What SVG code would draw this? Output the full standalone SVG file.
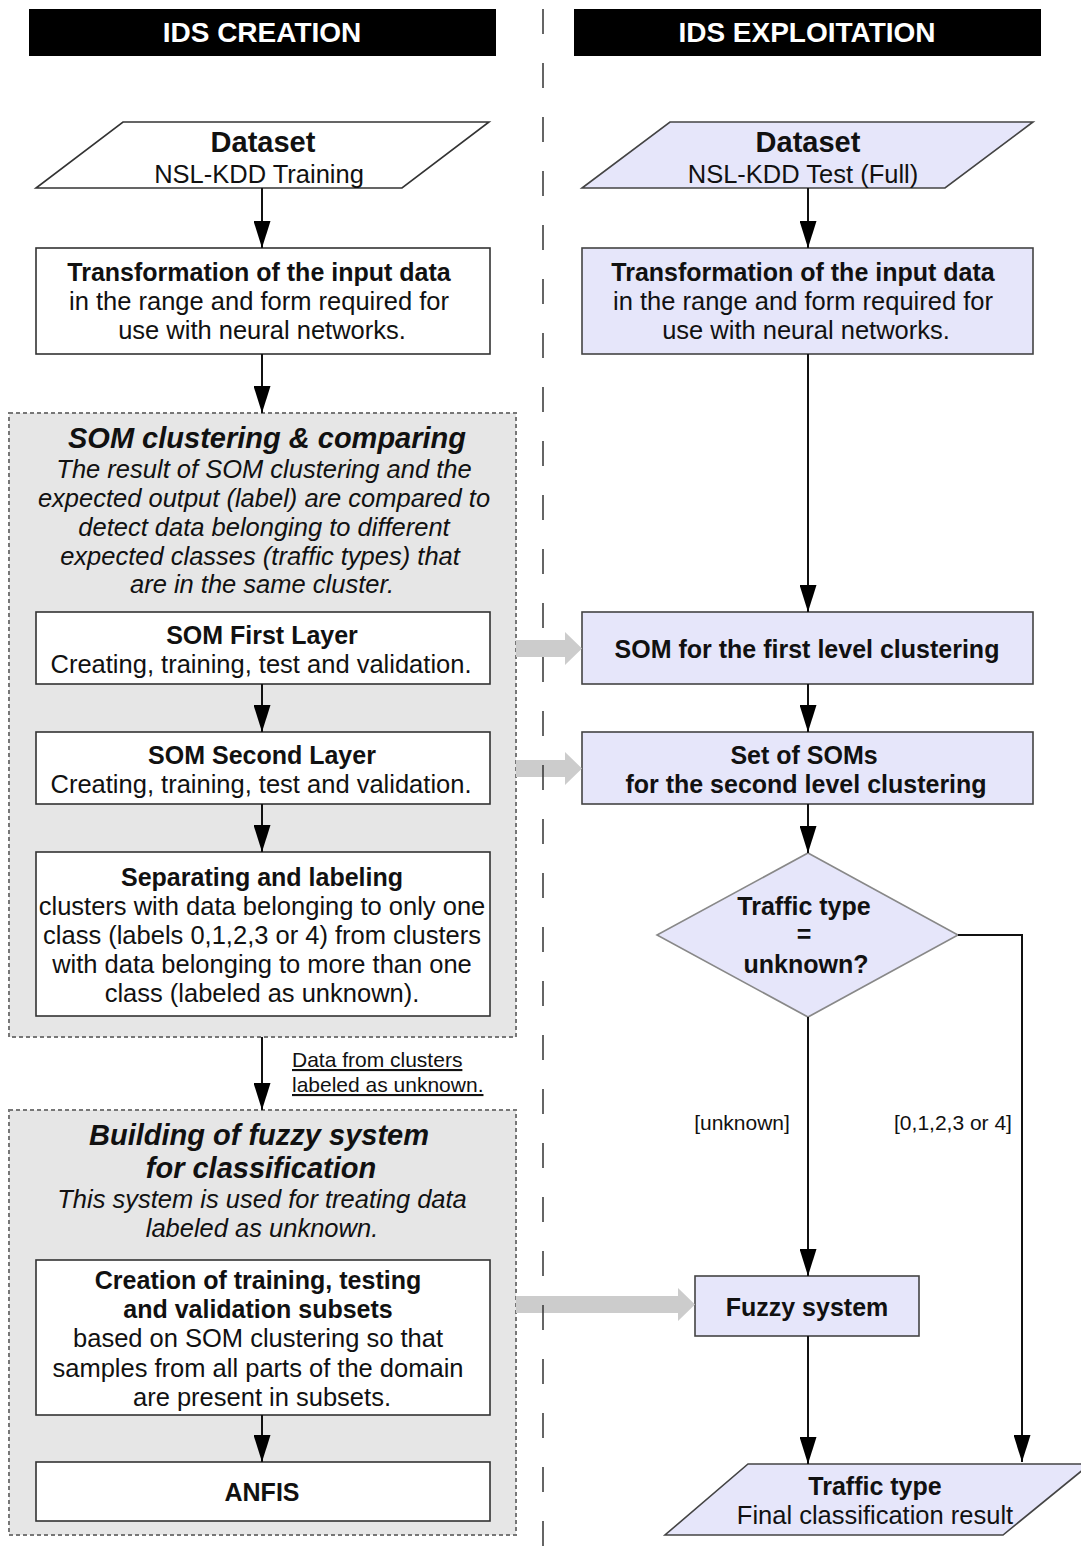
<svg xmlns="http://www.w3.org/2000/svg" width="1081" height="1563" viewBox="0 0 1081 1563">
<defs>
<marker id="ah" markerUnits="userSpaceOnUse" markerWidth="27" markerHeight="17" refX="27" refY="8.5" orient="auto" viewBox="0 0 27 17">
<path d="M0,0 L27,8.5 L0,17 Z" fill="#000"/>
</marker>
<style>
text{font-family:"Liberation Sans",Arial,sans-serif;fill:#111;text-anchor:middle}
.hdr{font-size:28px;font-weight:bold;fill:#fff}
.b{font-size:25px;font-weight:bold}
.r{font-size:25.5px}
.big{font-size:29px;font-weight:bold}
.bi{font-size:29px;font-weight:bold;font-style:italic}
.i{font-size:25.5px;font-style:italic}
.lbl{font-size:21px}
.box{fill:#fff;stroke:#333;stroke-width:1.6}
.lav{fill:#e6e6fa;stroke:#444;stroke-width:1.6}
.grp{fill:#e6e6e6;stroke:#777;stroke-width:2;stroke-dasharray:4,3}
.con{fill:none;stroke:#111;stroke-width:2}
.gar{fill:#cccccc}
</style>
</defs>
<rect width="1081" height="1563" fill="#fff"/>
<g id="hdr-creation"><rect x="29" y="9" width="467" height="47" fill="#000"/><text class="hdr" x="262" y="42">IDS CREATION</text></g>
<g id="hdr-exploitation"><rect x="574" y="9" width="467" height="47" fill="#000"/><text class="hdr" x="807" y="42">IDS EXPLOITATION</text></g>
<g id="grp-som"><rect class="grp" x="9" y="413" width="507" height="624"/>
<text class="bi" x="267" y="448">SOM clustering &amp; comparing</text>
<text class="i" x="264" y="478">The result of SOM clustering and the</text>
<text class="i" x="264" y="507">expected output (label) are compared to</text>
<text class="i" x="264" y="536">detect data belonging to different</text>
<text class="i" x="260" y="565">expected classes (traffic types) that</text>
<text class="i" x="262" y="593">are in the same cluster.</text></g>
<g id="grp-fuzzy"><rect class="grp" x="9" y="1110" width="507" height="425"/>
<text class="bi" x="259" y="1145">Building of fuzzy system</text>
<text class="bi" x="261" y="1178">for classification</text>
<text class="i" x="262" y="1208">This system is used for treating data</text>
<text class="i" x="262" y="1237">labeled as unknown.</text></g>
<g id="ds-train"><polygon class="box" points="123,122 489,122 402,188 36,188"/><text class="big" x="263" y="152">Dataset</text><text class="r" x="259" y="183">NSL-KDD Training</text></g>
<g id="tr-left"><rect class="box" x="36" y="248" width="454" height="106"/><text class="b" x="259" y="281">Transformation of the input data</text><text class="r" x="259" y="310">in the range and form required for</text><text class="r" x="262" y="339">use with neural networks.</text></g>
<g id="som1"><rect class="box" x="36" y="612" width="454" height="72"/><text class="b" x="262" y="644">SOM First Layer</text><text class="r" x="261" y="673">Creating, training, test and validation.</text></g>
<g id="som2"><rect class="box" x="36" y="732" width="454" height="72"/><text class="b" x="262" y="764">SOM Second Layer</text><text class="r" x="261" y="793">Creating, training, test and validation.</text></g>
<g id="sep"><rect class="box" x="36" y="852" width="454" height="164"/><text class="b" x="262" y="886">Separating and labeling</text><text class="r" x="262" y="915">clusters with data belonging to only one</text><text class="r" x="262" y="944">class (labels 0,1,2,3 or 4) from clusters</text><text class="r" x="262" y="973">with data belonging to more than one</text><text class="r" x="262" y="1002">class (labeled as unknown).</text></g>
<g id="subsets"><rect class="box" x="36" y="1260" width="454" height="155"/><text class="b" x="258" y="1289">Creation of training, testing</text><text class="b" x="258" y="1318">and validation subsets</text><text class="r" x="258" y="1347">based on SOM clustering so that</text><text class="r" x="258" y="1377">samples from all parts of the domain</text><text class="r" x="262" y="1406">are present in subsets.</text></g>
<g id="anfis"><rect class="box" x="36" y="1462" width="454" height="59"/><text class="b" x="262" y="1501">ANFIS</text></g>
<g id="ds-test"><polygon class="lav" points="670,122 1033,122 945,188 582,188"/><text class="big" x="808" y="152">Dataset</text><text class="r" x="803" y="183">NSL-KDD Test (Full)</text></g>
<g id="tr-right"><rect class="lav" x="582" y="248" width="451" height="106"/><text class="b" x="803" y="281">Transformation of the input data</text><text class="r" x="803" y="310">in the range and form required for</text><text class="r" x="806" y="339">use with neural networks.</text></g>
<g id="som-first"><rect class="lav" x="582" y="612" width="451" height="72"/><text class="b" x="807" y="658">SOM for the first level clustering</text></g>
<g id="som-set"><rect class="lav" x="582" y="732" width="451" height="72"/><text class="b" x="804" y="764">Set of SOMs</text><text class="b" x="806" y="793">for the second level clustering</text></g>
<g id="decision"><polygon points="808,853 958,935 808,1017 657,935" fill="#e6e6fa" stroke="#888" stroke-width="1.6"/><text class="b" x="804" y="915">Traffic type</text><text class="b" x="804" y="943">=</text><text class="b" x="806" y="973">unknown?</text></g>
<g id="fuzzy"><rect class="lav" x="695" y="1276" width="224" height="60"/><text class="b" x="807" y="1316">Fuzzy system</text></g>
<g id="result"><polygon class="lav" points="748,1464 1090,1464 1003,1535 665,1535"/><text class="b" x="875" y="1495">Traffic type</text><text class="r" x="875" y="1524">Final classification result</text></g>
<g id="connectors">
<line class="con" x1="262" y1="188" x2="262" y2="248" marker-end="url(#ah)"/>
<line class="con" x1="262" y1="354" x2="262" y2="413" marker-end="url(#ah)"/>
<line class="con" x1="262" y1="684" x2="262" y2="732" marker-end="url(#ah)"/>
<line class="con" x1="262" y1="804" x2="262" y2="852" marker-end="url(#ah)"/>
<line class="con" x1="262" y1="1037" x2="262" y2="1110" marker-end="url(#ah)"/>
<line class="con" x1="262" y1="1415" x2="262" y2="1462" marker-end="url(#ah)"/>
<line class="con" x1="808" y1="188" x2="808" y2="248" marker-end="url(#ah)"/>
<line class="con" x1="808" y1="354" x2="808" y2="612" marker-end="url(#ah)"/>
<line class="con" x1="808" y1="684" x2="808" y2="732" marker-end="url(#ah)"/>
<line class="con" x1="808" y1="804" x2="808" y2="853" marker-end="url(#ah)"/>
<line class="con" x1="808" y1="1017" x2="808" y2="1276" marker-end="url(#ah)"/>
<line class="con" x1="808" y1="1336" x2="808" y2="1464" marker-end="url(#ah)"/>
<polyline class="con" points="958,935 1022,935 1022,1462" marker-end="url(#ah)"/>
<polygon class="gar" points="516,640 565,640 565,632 582,648.5 565,665 565,657 516,657"/>
<polygon class="gar" points="516,760 565,760 565,752 582,768.5 565,785 565,777 516,777"/>
<polygon class="gar" points="516,1296 678,1296 678,1288 695,1304.5 678,1321 678,1313 516,1313"/>
<text class="lbl" x="292" y="1067" style="text-anchor:start;text-decoration:underline">Data from clusters </text>
<text class="lbl" x="292" y="1092" style="text-anchor:start;text-decoration:underline">labeled as unknown.</text>
<text class="lbl" x="742" y="1130">[unknown]</text>
<text class="lbl" x="953" y="1130">[0,1,2,3 or 4]</text>
</g>
<line id="divider" x1="543" y1="9" x2="543" y2="1563" stroke="#333" stroke-width="1.5" stroke-dasharray="25,29"/>
</svg>
